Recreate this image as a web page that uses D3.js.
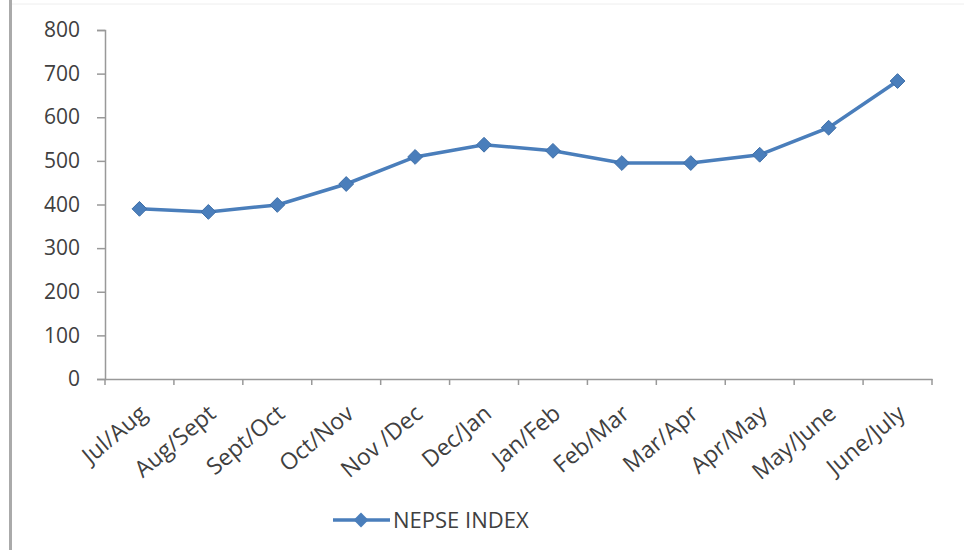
<!DOCTYPE html>
<html lang="en">
<head>
  <meta charset="UTF-8">
  <title>NEPSE Index</title>
  <script src="https://d3js.org/d3.v7.min.js"></script>
  <style>
    body { margin: 0; background: #fff; font-family: "Open Sans", sans-serif; }
    svg { display: block; }
  </style>
</head>
<body>
<svg width="964" height="550"></svg>
<script>
  const months = ["Jul/Aug", "Aug/Sept", "Sept/Oct", "Oct/Nov", "Nov /Dec", "Dec/Jan",
    "Jan/Feb", "Feb/Mar", "Mar/Apr", "Apr/May", "May/June", "June/July"];
  const nepse = [390, 383, 399, 447, 509, 537, 523, 495, 495, 514, 576, 683];
  const yTicks = [0, 100, 200, 300, 400, 500, 600, 700, 800];

  const svg = d3.select("svg");
  const margin = { top: 30, left: 105, right: 32, bottom: 171 };
  const width = 964, height = 550;
  const innerWidth = width - margin.left - margin.right;
  const innerHeight = height - margin.top - margin.bottom;
  const textColor = "#404040";

  // frame of the picture
  svg.append("rect").attr("x", 9).attr("y", 0).attr("width", 3).attr("height", height).attr("fill", "#aaa");
  svg.append("line").attr("x1", 12).attr("x2", width).attr("y1", 4).attr("y2", 4)
    .attr("stroke", "#eee");

  const g = svg.append("g").attr("transform", `translate(${margin.left},${margin.top})`);

  const x = d3.scaleBand().domain(months).range([0, innerWidth]);
  const y = d3.scaleLinear().domain([0, 800]).range([innerHeight, 0]);

  // y axis
  const yAxis = g.append("g")
    .call(d3.axisLeft(y).tickValues(yTicks).tickSize(8).tickPadding(17));
  yAxis.select(".domain").attr("stroke", "#999").attr("stroke-width", 1.5);
  yAxis.selectAll(".tick line").attr("stroke", "#999").attr("stroke-width", 1.5);
  yAxis.selectAll("text").attr("font-size", 21).attr("fill", textColor)
    .attr("font-family", "Open Sans, sans-serif");

  // x axis, tick marks sit on the category boundaries
  const xAxis = g.append("g").attr("transform", `translate(0,${innerHeight})`)
    .call(d3.axisBottom(x).tickSize(0).tickPadding(0).tickSizeOuter(0));
  xAxis.select(".domain").attr("stroke", "#999").attr("stroke-width", 1.5);
  xAxis.selectAll("text")
    .attr("font-size", 23).attr("fill", textColor)
    .attr("font-family", "Open Sans, sans-serif")
    .attr("text-anchor", "end")
    .attr("y", 0).attr("dy", 0)
    .attr("transform", "translate(9,37) rotate(-40)");
  g.append("g").selectAll("line")
    .data(d3.range(months.length + 1))
    .join("line")
    .attr("x1", i => i * x.bandwidth()).attr("x2", i => i * x.bandwidth())
    .attr("y1", innerHeight).attr("y2", innerHeight + 6)
    .attr("stroke", "#999").attr("stroke-width", 1.5);

  const color = "#4a7ebb";
  const cx = d => x(d) + x.bandwidth() / 2;

  const line = d3.line().x((d, i) => cx(months[i])).y(d => y(d));
  g.append("path").datum(nepse)
    .attr("d", line).attr("fill", "none")
    .attr("stroke", color).attr("stroke-width", 3.5);

  const diamond = d3.symbol().type(d3.symbolDiamond2).size(140);
  g.selectAll(".pt").data(nepse).join("path")
    .attr("class", "pt")
    .attr("d", diamond)
    .attr("transform", (d, i) => `translate(${cx(months[i])},${y(d)})`)
    .attr("fill", color).attr("stroke", "#3f6fa8").attr("stroke-width", 1);

  // legend
  const lg = svg.append("g").attr("transform", "translate(333,520)");
  lg.append("line").attr("x1", 0).attr("x2", 57).attr("stroke", color).attr("stroke-width", 3.5);
  lg.append("path").attr("d", diamond).attr("transform", "translate(28,0)").attr("fill", color);
  lg.append("text").attr("x", 60).attr("y", 0).attr("dy", "0.35em")
    .attr("font-size", 22).attr("fill", textColor).text("NEPSE INDEX");
</script>
</body>
</html>
